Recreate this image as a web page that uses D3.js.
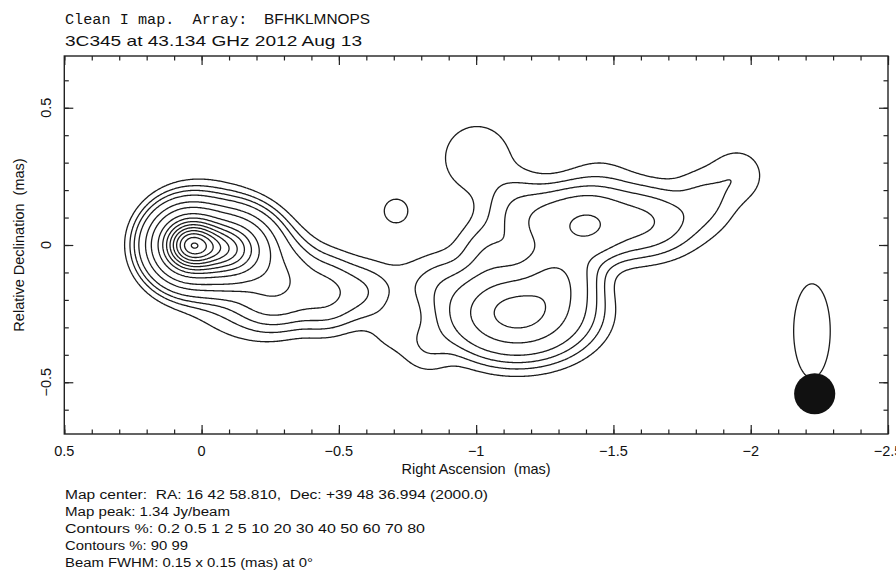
<!DOCTYPE html>
<html>
<head>
<meta charset="utf-8">
<script src="https://cdn.jsdelivr.net/npm/d3@7"></script>
<style>
  html, body { margin: 0; padding: 0; background: #fff; }
  svg { display: block; }
  text { white-space: pre; }
  .lbl { font-family: "Liberation Sans", Arial, sans-serif; fill: #111; }
  .mono { font-family: "Liberation Mono", "Courier New", monospace; fill: #111; }
</style>
</head>
<body>
<svg id="chart" width="896" height="572"></svg>
<script>
// ---- header / footer text ----
const titleMono = "Clean I map.  Array:";
const titleArray = "BFHKLMNOPS";
const titleSource = "3C345 at 43.134 GHz 2012 Aug 13";
const footerLines = [
  "Map center:  RA: 16 42 58.810,  Dec: +39 48 36.994 (2000.0)",
  "Map peak: 1.34 Jy/beam",
  "Contours %: 0.2 0.5 1 2 5 10 20 30 40 50 60 70 80",
  "Contours %: 90 99",
  "Beam FWHM: 0.15 x 0.15 (mas) at 0\u00B0"
];

// ---- contour levels (percent of map peak) ----
const contourPercents = [0.2, 0.5, 1, 2, 5, 10, 20, 30, 40, 50, 60, 70, 80, 90, 99];

// ---- restoring beam ----
const beamMajor = 0.15, beamMinor = 0.15, beamPA = 0;
const beamRA = -2.233, beamDec = -0.542;

// ---- axes ----
const raDomain = [0.5, -2.5];
const decDomain = [-0.6885, 0.6885];
const raMajorTicks = [0.5, 0, -0.5, -1, -1.5, -2, -2.5];
const raTickLabels = ["0.5", "0", "\u22120.5", "\u22121", "\u22121.5", "\u22122", "\u22122.5"];
const decMajorTicks = [0.5, 0, -0.5];
const decTickLabels = ["0.5", "0", "\u22120.5"];
const xTitle = "Right Ascension  (mas)";
const yTitle = "Relative Declination  (mas)";

// ---- Gaussian model components ----
// position (mas), restored peak (Jy/beam), intrinsic FWHM (mas), PA (deg)
const compRA   = [ 0.042, -0.096, -0.012, -0.140, -0.267, -0.449, -0.595, -0.730,
                  -1.149, -1.287, -1.360, -1.342, -1.597, -1.418, -1.833, -1.953,
                  -1.003, -1.050, -1.141, -0.868, -0.825, -0.693, -0.708, -1.451, -2.223];
const compDec  = [ 0.000, -0.015,  0.000, -0.164, -0.135, -0.175, -0.171, -0.138,
                  -0.248, -0.127, -0.047,  0.076,  0.084,  0.069,  0.164,  0.255,
                   0.317, -0.036,  0.146, -0.146, -0.368, -0.310,  0.124,  0.200, -0.313];
const compPeak = [ 1.160,  0.670,  0.028,  0.008,  0.074,  0.030,  0.0105, 0.0025,
                   0.170,  0.058,  0.008,  0.050,  0.028,  0.024,  0.007,  0.0055,
                   0.006,  0.012,  0.008,  0.008,  0.0060, 0.0034, 0.0034, 0.004, 0.0047];
const compMaj  = [ 0.052,  0.115,  0.188,  0.188,  0.115,  0.083,  0.037,  0.000,
                   0.250,  0.083,  0.083,  0.230,  0.230,  0.000,  0.083,  0.037,
                   0.153,  0.083,  0.083,  0.083,  0.000,  0.000,  0.000,  0.153, 0.356];
const compMin  = [ 0.000,  0.037,  0.188,  0.188,  0.115,  0.083,  0.037,  0.000,
                   0.115,  0.083,  0.083,  0.083,  0.083,  0.000,  0.083,  0.037,
                   0.153,  0.083,  0.083,  0.083,  0.000,  0.000,  0.000,  0.153, 0.000];
const compPA   = [ 90, 90, 0, 0, 0, 0, 0, 0,
                   90, 0, 0, 90, 90, 0, 0, 0,
                   0, 0, 0, 0, 0, 0, 0, 0, 0];

// ---- layout ----
const svg = d3.select("#chart");
const frame = { left: 64.3, right: 888, top: 56, bottom: 434 };

const x = d3.scaleLinear().domain(raDomain).range([frame.left, frame.right]);
const y = d3.scaleLinear().domain(decDomain).range([frame.bottom, frame.top]);

// ---- restored map on a regular grid ----
const step = 0.004;
const ra0 = raDomain[0], dec0 = decDomain[1];
const nx = Math.round((raDomain[0] - raDomain[1]) / step) + 1;
const ny = Math.round((decDomain[1] - decDomain[0]) / step) + 1;
const FW = 2 * Math.sqrt(2 * Math.LN2);
const sb2 = Math.pow(beamMajor / FW, 2);

const comps = compRA.map((ra, i) => {
  const th = compPA[i] * Math.PI / 180;
  const s1 = Math.pow(compMaj[i] / FW, 2) + sb2;
  const s2 = Math.pow(compMin[i] / FW, 2) + sb2;
  return { ra, dec: compDec[i], pk: compPeak[i],
           ux: Math.sin(th), uy: Math.cos(th), s1, s2,
           rmax2: 49 * Math.max(s1, s2) };
});

const values = new Float64Array(nx * ny);
for (let j = 0; j < ny; j++) {
  const dec = dec0 - j * step;
  for (let i = 0; i < nx; i++) {
    const ra = ra0 - i * step;
    let v = 0;
    for (const c of comps) {
      const dx = ra - c.ra, dy = dec - c.dec;
      if (dx * dx + dy * dy > c.rmax2) continue;
      const a = dx * c.ux + dy * c.uy;
      const b = dx * c.uy - dy * c.ux;
      v += c.pk * Math.exp(-0.5 * (a * a / c.s1 + b * b / c.s2));
    }
    values[j * nx + i] = v;
  }
}
const mapPeak = d3.max(values);
const thresholds = contourPercents.map(p => p / 100 * mapPeak);

const contours = d3.contours().size([nx, ny]).thresholds(thresholds)(values);

const gridToPlot = d3.geoTransform({
  point: function (gx, gy) {
    this.stream.point(x(ra0 - (gx - 0.5) * step), y(dec0 - (gy - 0.5) * step));
  }
});
const path = d3.geoPath(gridToPlot);

svg.append("clipPath").attr("id", "frameClip")
  .append("rect")
  .attr("x", frame.left).attr("y", frame.top)
  .attr("width", frame.right - frame.left).attr("height", frame.bottom - frame.top);

svg.append("g").attr("clip-path", "url(#frameClip)")
  .selectAll("path").data(contours).join("path")
  .attr("d", path)
  .attr("fill", "none")
  .attr("stroke", "#1c1c1c")
  .attr("stroke-width", 1.3)
  .attr("stroke-linejoin", "round");

// ---- beam ----
svg.append("ellipse")
  .attr("cx", x(beamRA)).attr("cy", y(beamDec))
  .attr("rx", Math.abs(x(beamMinor / 2) - x(0)))
  .attr("ry", Math.abs(y(beamMajor / 2) - y(0)))
  .attr("transform", `rotate(${beamPA},${x(beamRA)},${y(beamDec)})`)
  .attr("fill", "#111");

// ---- axes (ticks inward on all four sides) ----
const raMinor = d3.range(-25, 6).map(d => d / 10);
const decMinor = d3.range(-6, 7).map(d => d / 10);
const tickStyle = g => {
  g.select(".domain").remove();
  g.selectAll("line").attr("stroke", "#222").attr("stroke-width", 1.2);
};
const axisDefs = [
  [d3.axisBottom(x), frame.bottom, "x", raMinor, raMajorTicks],
  [d3.axisTop(x), frame.top, "x", raMinor, raMajorTicks],
  [d3.axisLeft(y), frame.left, "y", decMinor, decMajorTicks],
  [d3.axisRight(y), frame.right, "y", decMinor, decMajorTicks]
];
axisDefs.forEach(([axis, pos, dir, minor, major]) => {
  const tr = dir === "x" ? `translate(0,${pos})` : `translate(${pos},0)`;
  svg.append("g").attr("transform", tr)
    .call(axis.tickValues(minor).tickSize(-4.5).tickSizeOuter(0).tickFormat(""))
    .call(tickStyle);
  svg.append("g").attr("transform", tr)
    .call(axis.tickValues(major).tickSize(-9).tickSizeOuter(0).tickFormat(""))
    .call(tickStyle);
});

// tick labels
svg.append("g").selectAll("text").data(raMajorTicks).join("text")
  .attr("class", "lbl")
  .attr("x", d => x(d)).attr("y", 456)
  .attr("text-anchor", "middle").attr("font-size", 14.5)
  .text((d, i) => raTickLabels[i]);

svg.append("g").selectAll("text").data(decMajorTicks).join("text")
  .attr("class", "lbl")
  .attr("transform", d => `translate(51,${y(d)}) rotate(-90)`)
  .attr("text-anchor", "middle").attr("font-size", 14.5)
  .text((d, i) => decTickLabels[i]);

// frame
svg.append("rect")
  .attr("x", frame.left).attr("y", frame.top)
  .attr("width", frame.right - frame.left).attr("height", frame.bottom - frame.top)
  .attr("fill", "none").attr("stroke", "#222").attr("stroke-width", 1.4);

// axis titles
svg.append("text").attr("class", "lbl")
  .attr("x", (frame.left + frame.right) / 2).attr("y", 474)
  .attr("text-anchor", "middle").attr("font-size", 14.5)
  .text(xTitle);
svg.append("text").attr("class", "lbl")
  .attr("transform", `translate(24,${(frame.top + frame.bottom) / 2}) rotate(-90)`)
  .attr("text-anchor", "middle").attr("font-size", 14.5)
  .text(yTitle);

// header
svg.append("text").attr("class", "mono")
  .attr("x", 65).attr("y", 24).attr("font-size", 15.2)
  .text(titleMono);
svg.append("text").attr("class", "lbl")
  .attr("x", 264).attr("y", 24).attr("font-size", 15)
  .attr("textLength", 106).attr("lengthAdjust", "spacingAndGlyphs")
  .text(titleArray);
svg.append("text").attr("class", "lbl")
  .attr("x", 65).attr("y", 46).attr("font-size", 15)
  .attr("textLength", 297).attr("lengthAdjust", "spacingAndGlyphs")
  .text(titleSource);

// footer
const footerWidths = [423, 165, 360, 123, 248];
svg.append("g").selectAll("text").data(footerLines).join("text")
  .attr("class", "lbl")
  .attr("x", 65).attr("y", (d, i) => 499 + i * 17.1)
  .attr("font-size", 12.5)
  .attr("textLength", (d, i) => footerWidths[i])
  .attr("lengthAdjust", "spacingAndGlyphs")
  .text(d => d);
</script>
</body>
</html>
